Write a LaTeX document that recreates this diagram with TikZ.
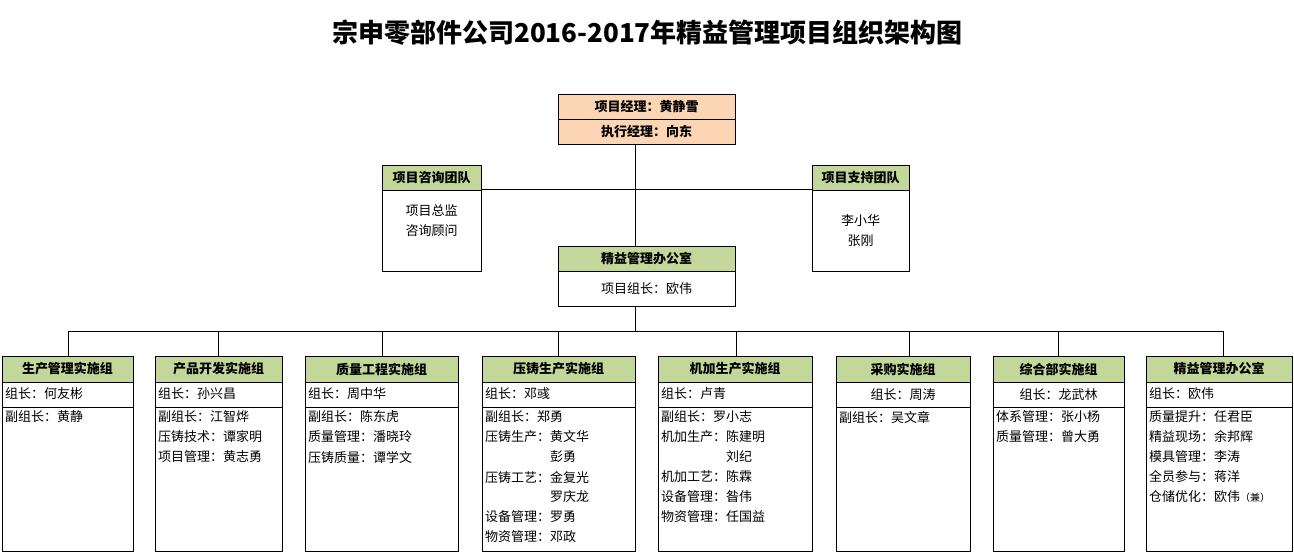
\documentclass[tikz,border=0pt]{standalone}
\usepackage{fontspec}
\setmainfont{Noto Sans CJK SC}
\usetikzlibrary{fit}
\definecolor{hdrgreen}{HTML}{C4D79B}
\definecolor{peachc}{HTML}{FCD5B4}
\tikzset{
  ln/.style={draw=black, line width=0.9pt},
  cellbox/.style={ln, fill=white, inner sep=0pt},
  hdr/.style={ln, fill=hdrgreen, inner sep=0pt},
  topcell/.style={ln, fill=peachc, inner sep=0pt},
  btxt/.style={inner sep=0pt, font=\bfseries\fontsize{13}{15}\selectfont},
  txt/.style={inner sep=0pt, anchor=west, font=\fontsize{13}{15}\selectfont},
  ctxt/.style={inner sep=0pt, font=\fontsize{13}{15}\selectfont},
}
\begin{document}
\begin{tikzpicture}[x=1pt,y=-1pt]
\useasboundingbox (0,0) rectangle (1294,554);
% title
\node[inner sep=0pt, font=\bfseries\fontsize{26}{30}\selectfont] (title) at (647.5,33) {宗申零部件公司2016-2017年精益管理项目组织架构图};

% top box
\node[topcell, fit={(558,94)(735,119)}] (pm) {};
\node[btxt] at (pm.center) {项目经理：黄静雪};
\node[topcell, fit={(558,119)(735,144)}] (em) {};
\node[btxt] at (em.center) {执行经理：向东};

% consulting team
\node[hdr, fit={(382,165)(481,190)}] (cth) {};
\node[btxt] at (cth.center) {项目咨询团队};
\node[cellbox, fit={(382,190)(481,271)}] (ctb) {};
\node[ctxt] (ct1) at (431.5,211) {项目总监};
\node[ctxt] (ct2) at (431.5,231) {咨询顾问};

% support team
\node[hdr, fit={(812,165)(909,190)}] (sth) {};
\node[btxt] at (sth.center) {项目支持团队};
\node[cellbox, fit={(812,190)(909,271)}] (stb) {};
\node[ctxt] (st1) at (860.5,221) {李小华};
\node[ctxt] (st2) at (860.5,241) {张刚};

% lean office
\node[hdr, fit={(558,246)(735,271)}] (loh) {};
\node[btxt] at (loh.center) {精益管理办公室};
\node[cellbox, fit={(558,271)(735,306)}] (lob) {};
\node[ctxt] (lo1) at (lob.center) {项目组长：欧伟};

% connectors top
\draw[ln] (em.south -| 635,0) -- (loh.north -| 635,0);
\draw[ln] (ctb.north east) -- (stb.north west);
\draw[ln] (lob.south -| 635,0) -- (635,331) coordinate (bm);

% bus
\coordinate (b1) at (68,331);
\coordinate (b2) at (218,331);
\coordinate (b3) at (382,331);
\coordinate (b4) at (558,331);
\coordinate (b5) at (736,331);
\coordinate (b6) at (909,331);
\coordinate (b7) at (1058,331);
\coordinate (b8) at (1223,331);
\draw[ln] (b1) -- (b8);

% group 1
\node[hdr, fit={(2,356)(133,382)}] (g1h) {};
\node[btxt] at (g1h.center) {生产管理实施组};
\node[cellbox, fit={(2,382)(133,407)}] (g1l) {};
\node[cellbox, fit={(2,407)(133,551)}] (g1b) {};
\node[txt] at (5,394) {组长：何友彬};
\node[txt] at (5,417) {副组长：黄静};

% group 2
\node[hdr, fit={(155,356)(282,382)}] (g2h) {};
\node[btxt] at (g2h.center) {产品开发实施组};
\node[cellbox, fit={(155,382)(282,407)}] (g2l) {};
\node[cellbox, fit={(155,407)(282,551)}] (g2b) {};
\node[txt] at (158,394) {组长：孙兴昌};
\node[txt] at (158,417) {副组长：江智烨};
\node[txt] at (158,437) {压铸技术：谭家明};
\node[txt] at (158,457) {项目管理：黄志勇};

% group 3
\node[hdr, fit={(305,356)(458,382)}] (g3h) {};
\node[btxt] at (g3h.center) {质量工程实施组};
\node[cellbox, fit={(305,382)(458,407)}] (g3l) {};
\node[cellbox, fit={(305,407)(458,551)}] (g3b) {};
\node[txt] at (308,394) {组长：周中华};
\node[txt] at (308,417) {副组长：陈东虎};
\node[txt] at (308,437) {质量管理：潘晓玲};
\node[txt] at (308,457) {压铸质量：谭学文};

% group 4
\node[hdr, fit={(482,356)(635,382)}] (g4h) {};
\node[btxt] at (g4h.center) {压铸生产实施组};
\node[cellbox, fit={(482,382)(635,407)}] (g4l) {};
\node[cellbox, fit={(482,407)(635,551)}] (g4b) {};
\node[txt] at (485,394) {组长：邓彧};
\node[txt] at (485,417) {副组长：郑勇};
\node[txt] at (485,437) {压铸生产：黄文华};
\node[txt] at (550,457) {彭勇};
\node[txt] at (485,477) {压铸工艺：金复光};
\node[txt] at (550,497) {罗庆龙};
\node[txt] at (485,517) {设备管理：罗勇};
\node[txt] at (485,537) {物资管理：邓政};

% group 5
\node[hdr, fit={(658,356)(812,382)}] (g5h) {};
\node[btxt] at (g5h.center) {机加生产实施组};
\node[cellbox, fit={(658,382)(812,407)}] (g5l) {};
\node[cellbox, fit={(658,407)(812,551)}] (g5b) {};
\node[txt] at (661,394) {组长：卢青};
\node[txt] at (661,417) {副组长：罗小志};
\node[txt] at (661,437) {机加生产：陈建明};
\node[txt] at (726,457) {刘纪};
\node[txt] at (661,477) {机加工艺：陈霖};
\node[txt] at (661,497) {设备管理：昝伟};
\node[txt] at (661,517) {物资管理：任国益};

% group 6
\node[hdr, fit={(836,356)(970,382)}] (g6h) {};
\node[btxt] at (g6h.center) {采购实施组};
\node[cellbox, fit={(836,382)(970,407)}] (g6l) {};
\node[ctxt] at (g6l.center) {组长：周涛};
\node[cellbox, fit={(836,407)(970,551)}] (g6b) {};
\node[txt] at (839,417) {副组长：吴文章};

% group 7
\node[hdr, fit={(993,356)(1124,382)}] (g7h) {};
\node[btxt] at (g7h.center) {综合部实施组};
\node[cellbox, fit={(993,382)(1124,407)}] (g7l) {};
\node[ctxt] at (g7l.center) {组长：龙武林};
\node[cellbox, fit={(993,407)(1124,551)}] (g7b) {};
\node[txt] at (996,417) {体系管理：张小杨};
\node[txt] at (996,437) {质量管理：曾大勇};

% group 8
\node[hdr, fit={(1146,356)(1292,382)}] (g8h) {};
\node[btxt] at (g8h.center) {精益管理办公室};
\node[cellbox, fit={(1146,382)(1292,407)}] (g8l) {};
\node[cellbox, fit={(1146,407)(1292,551)}] (g8b) {};
\node[txt] at (1149,394) {组长：欧伟};
\node[txt] at (1149,417) {质量提升：任君臣};
\node[txt] at (1149,437) {精益现场：余邦辉};
\node[txt] at (1149,457) {模具管理：李涛};
\node[txt] at (1149,477) {全员参与：蒋洋};
\node[txt] at (1149,497) {仓储优化：欧伟{\fontsize{10}{12}\selectfont（兼）}};

% drops
\foreach \i in {1,...,8} {
  \draw[ln] (b\i) -- (b\i |- g\i h.north);
}
\end{tikzpicture}
\end{document}
